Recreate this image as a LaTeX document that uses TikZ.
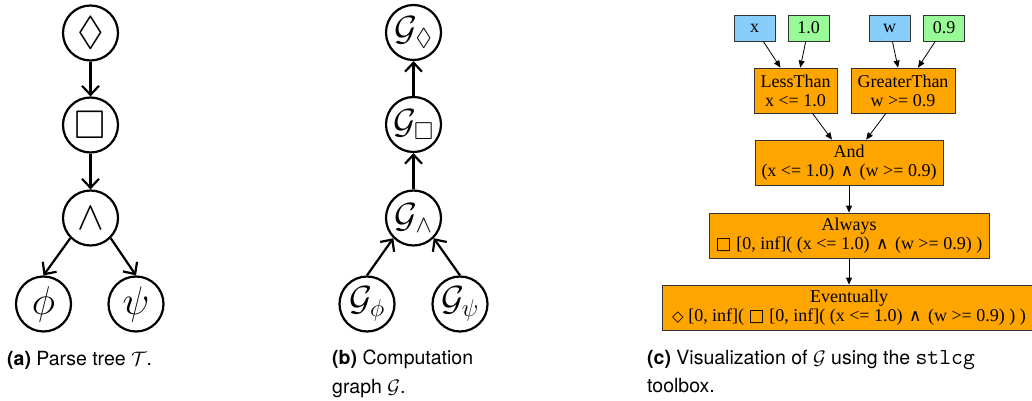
\documentclass[tikz,border=0pt]{standalone}
\usepackage{fix-cm}
\usepackage{amssymb}
\usepackage{fontspec}
\usetikzlibrary{arrows.meta}

\newfontfamily\capfont{TeX Gyre Heros}
\newfontfamily\gvfont{Liberation Serif}
\newfontfamily\gvsym{DejaVu Sans}

\definecolor{gvorange}{HTML}{FFA500}
\definecolor{gvblue}{HTML}{87CEFA}
\definecolor{gvgreen}{HTML}{98FB98}
\definecolor{gvline}{HTML}{333333}

% operator glyphs used inside the graph labels
\newcommand{\stland}{{\kern2pt\gvsym\fontsize{17}{17}\selectfont ∧\kern2pt}}
\newcommand{\stlalw}{{\gvsym\fontsize{17}{17}\selectfont □}}
\newcommand{\stlev}{{\gvsym\fontsize{15}{15}\selectfont ◇}}
% typewriter name in the caption
\newcommand{\codename}[1]{{\ttfamily\fontsize{23}{23}\selectfont #1}}

\tikzset{
  opnode/.style={circle, draw, line width=2.2pt, minimum size=55pt, inner sep=0pt,
    font=\fontsize{40}{44}\selectfont},
  gnode/.style={opnode, font=\fontsize{35}{38}\selectfont},
  treearrow/.style={line width=2.2pt, -{Straight Barb[length=9pt,width=17pt]}},
  gvin/.style={draw=gvline, line width=0.8pt, minimum height=26pt, minimum width=41pt,
    inner sep=0pt, font=\gvfont\fontsize{18}{19}\selectfont},
  gvop/.style={draw=gvline, line width=0.8pt, fill=gvorange, minimum height=45pt,
    inner sep=0pt, align=center, font=\gvfont\fontsize{18}{19}\selectfont},
  gvedge/.style={line width=0.8pt, -{Triangle[length=7pt,width=6pt]}},
  caption/.style={anchor=base west, inner sep=0pt, font=\capfont\fontsize{19.5}{23}\selectfont},
}

\begin{document}
\begin{tikzpicture}[x=1pt, y=-1pt]
\useasboundingbox (0,0) rectangle (1032,401);

% (a) parse tree
\node[opnode] (a1) at (90.5,33) {$\lozenge$};
\node[opnode] (a2) at (90.5,125) {$\square$};
\node[opnode] (a3) at (90.5,218) {$\wedge$};
\node[opnode] (a4) at (43.5,304) {$\phi$};
\node[opnode] (a5) at (136,304) {$\psi$};
\draw[treearrow] (a1) -- (a2);
\draw[treearrow] (a2) -- (a3);
\draw[treearrow] (a3.south west) -- (a4.north);
\draw[treearrow] (a3.south east) -- (a5.north);
\node[caption] (capa) at (7,365) {\textbf{(a)} Parse tree $\mathcal{T}$.};

% (b) computation graph
\node[gnode] (b1) at (413.5,32.5) {$\mathcal{G}_{\lozenge}$};
\node[gnode] (b2) at (413.5,124.5) {$\mathcal{G}_{\square}$};
\node[gnode] (b3) at (413.5,218) {$\mathcal{G}_{\wedge}$};
\node[gnode] (b4) at (367,304) {$\mathcal{G}_{\phi}$};
\node[gnode] (b5) at (460,304) {$\mathcal{G}_{\psi}$};
\draw[treearrow] (b2) -- (b1);
\draw[treearrow] (b3) -- (b2);
\draw[treearrow] (b4.north) -- (b3.south west);
\draw[treearrow] (b5.north) -- (b3.south east);
\node[caption] (capb1) at (332,364) {\textbf{(b)} Computation};
\node[caption] (capb2) at (332,393) {graph $\mathcal{G}$.};

% (c) stlcg visualization
\node[gvin, fill=gvblue] (x) at (754.5,28) {x};
\node[gvin, fill=gvgreen] (c1) at (808.5,28) {1.0};
\node[gvin, fill=gvblue] (w) at (889.5,28) {w};
\node[gvin, fill=gvgreen] (c2) at (944,28) {0.9};
\node[gvop, minimum width=83pt] (lt) at (795.5,90.5) {LessThan\\x <= 1.0};
\node[gvop, minimum width=104pt] (gt) at (903,90.5) {GreaterThan\\w >= 0.9};
\node[gvop, minimum width=188pt] (and) at (849,162.5) {And\\(x <= 1.0) \stland{} (w >= 0.9)};
\node[gvop, minimum width=280pt] (alw) at (849,235.5) {Always\\\stlalw{} [0, inf]( (x <= 1.0) \stland{} (w >= 0.9) )};
\node[gvop, minimum width=374pt] (ev) at (849,307.5) {Eventually\\\stlev{} [0, inf]( \stlalw{} [0, inf]( (x <= 1.0) \stland{} (w >= 0.9) ) )};
\draw[gvedge] (x) -- (lt);
\draw[gvedge] (c1) -- (lt);
\draw[gvedge] (w) -- (gt);
\draw[gvedge] (c2) -- (gt);
\draw[gvedge] (lt) -- (and);
\draw[gvedge] (gt) -- (and);
\draw[gvedge] (and) -- (alw);
\draw[gvedge] (alw) -- (ev);
\node[caption] (capc1) at (647,364) {\textbf{(c)} Visualization of $\mathcal{G}$ using the \codename{stlcg}};
\node[caption] (capc2) at (647,392) {toolbox.};
\end{tikzpicture}
\end{document}
